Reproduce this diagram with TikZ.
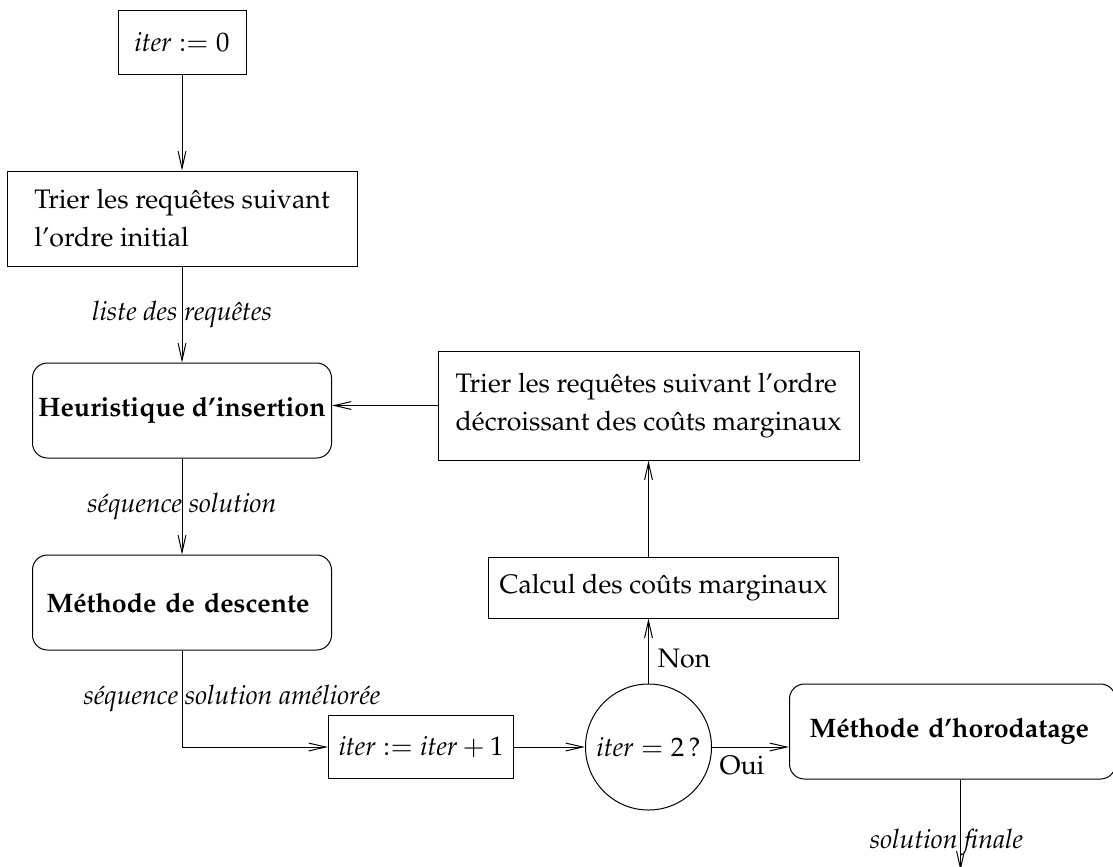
\documentclass[tikz,border=0pt]{standalone}
\usepackage[T1]{fontenc}
\usepackage{mathpazo}
\usetikzlibrary{positioning, arrows.meta, calc}
\tikzset{
  % --- boxes ---
  box/.style={draw, rectangle, line width=0.4pt, inner xsep=4pt, inner ysep=3pt},
  txtbox/.style={box, align=left},
  stage/.style={box, rounded corners=2.1mm, font=\bfseries, minimum height=38pt,
    inner xsep=5.6pt, align=left},
  decision/.style={draw, circle, line width=0.4pt, minimum size=50.4pt, inner sep=0pt},
  % --- connectors ---
  flow/.style={-{Straight Barb[length=2.4mm, width=1.1mm]}, line width=0.4pt},
  flowlbl/.style={font=\itshape, inner sep=1pt},
}

\begin{document}
\fontsize{10.7pt}{15.2pt}\selectfont
\begin{tikzpicture}
    \useasboundingbox (0,0) rectangle (445.2pt,-346.4pt);

    % ---- Main column ----
    \node[box, minimum width=51.2pt, minimum height=25.6pt] (init) at (72.8pt,-16.8pt) {$\mathit{iter} := 0$};
    \node[txtbox, below=38.4pt of init, minimum width=140pt, minimum height=38pt] (tri1)
      {Trier les requ\^etes suivant\\l'ordre initial};
    \node[stage, below=38.4pt of tri1, inner xsep=1pt, minimum width=119.6pt] (heur) {Heuristique d'insertion};
    \node[stage, below=38.4pt of heur, text width=108.4pt] (desc) {M\'ethode de descente};

    % ---- Bottom row ----
    \node[box, below right=38.6pt and 58.4pt of desc.south, anchor=west,
      minimum width=74pt, minimum height=25.2pt] (incr) {$\mathit{iter} := \mathit{iter}+1$};
    \node[decision, right=28.4pt of incr] (test) {$\mathit{iter}=2\,$?};
    \node[stage, right=30.8pt of test, yshift=6.2pt, inner xsep=8pt, text width=114.4pt] (horo)
      {M\'ethode d'horodatage};
    \coordinate[below=36.4pt of horo.south, xshift=3.2pt] (fin);

    % ---- Feedback loop ----
    \node[box, above=26pt of test, xshift=6pt, minimum width=140pt, minimum height=24.4pt] (calc)
      {Calcul des co\^uts marginaux};
    \node[txtbox, above=38.4pt of calc, xshift=-6pt, minimum width=168.4pt, minimum height=43.6pt] (tri2)
      {Trier les requ\^etes suivant l'ordre\\d\'ecroissant des co\^uts marginaux};

    % ---- Connectors ----
    \draw[flow] (init) -- (tri1);
    \draw[flow] (tri1) -- node[flowlbl]{liste des requ\^etes} (heur);
    \draw[flow] (heur) -- node[flowlbl]{s\'equence solution} (desc);
    \draw[flow] (desc) |- node[flowlbl, pos=0.25, xshift=20pt]{s\'equence solution am\'elior\'ee} (incr);
    \draw[flow] (incr) -- (test);
    \draw[flow] (test) -- node[pos=0.39, below]{Oui} (test.east -| horo.west);
    \draw[flow] (test) -- node[pos=0.38, right]{Non} (test.north |- calc.south);
    \draw[flow] (test.north |- calc.north) -- (tri2);
    \draw[flow] (tri2) -- (tri2.west -| heur.east);
    \draw[flow] (horo.south -| fin) -- node[flowlbl, pos=0.69, xshift=-5.6pt]{solution finale} (fin);
\end{tikzpicture}
\end{document}
